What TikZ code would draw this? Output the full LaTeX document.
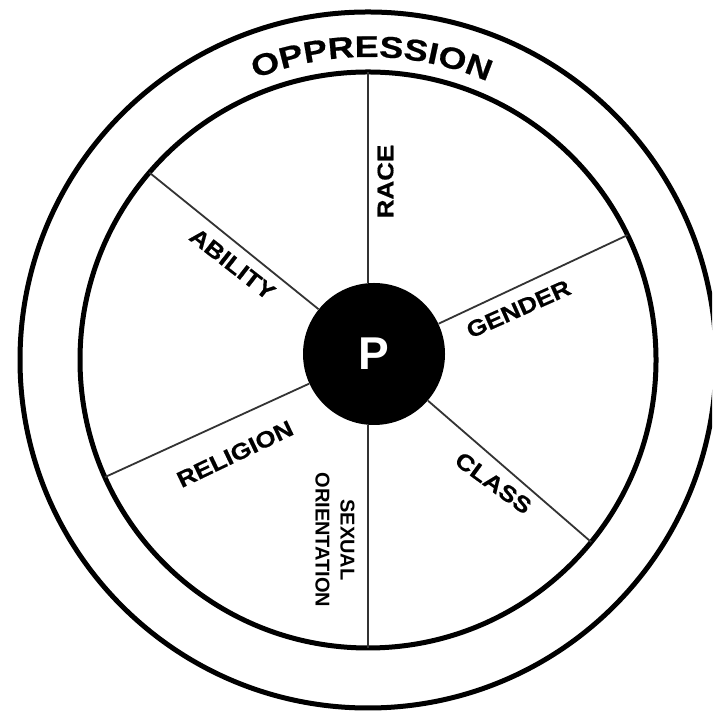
\documentclass[tikz,border=0pt]{standalone}
\usepackage{fontspec}
\setmainfont{Liberation Sans}
\newfontfamily\lblfont{Liberation Sans}[FakeStretch=1.15, FakeBold=0.6]
\newfontfamily\oppfont{Liberation Sans}[FakeStretch=1.2, FakeBold=0.6]
\newcommand\oppstyle{\oppfont\bfseries\fontsize{15pt}{17pt}\selectfont}
\usetikzlibrary{decorations.text}
\begin{document}
\begin{tikzpicture}[x=0.5pt,y=0.5pt,
  ring/.style={draw=black, line width=2.5pt},
  spoke/.style={draw=black!80, line width=0.9pt},
  lbl/.style={font=\lblfont\bfseries\fontsize{11.3pt}{13pt}\selectfont, inner sep=0pt},
  lblplain/.style={font=\bfseries\fontsize{10pt}{12.5pt}\selectfont, inner sep=0pt, align=center},
  hub/.style={circle, fill=black, minimum size=71pt, inner sep=0pt, text=white,
    font=\bfseries\fontsize{23pt}{26pt}\selectfont}]
\fill[white] (0,0) rectangle (712,715);
\clip (0,0) rectangle (712,715);
\coordinate (C) at (368,355);
\draw[ring] (C) circle[radius=174pt];
\draw[ring] (C) circle[radius=144pt];
\node[hub] (P) at (374,361) {P};
\path ([shift={(90:144pt)}]C) coordinate (sT);
\path ([shift={(-90:144pt)}]C) coordinate (sB);
\path ([shift={(139.4:144pt)}]C) coordinate (sUL);
\path ([shift={(25.7:144pt)}]C) coordinate (sUR);
\path ([shift={(204:144pt)}]C) coordinate (sLL);
\path ([shift={(320.8:144pt)}]C) coordinate (sLR);
\draw[spoke] (sT) -- (sT |- P.north);
\draw[spoke] (sB) -- (sB |- P.south);
\draw[spoke] (sUL) -- (P);
\draw[spoke] (sUR) -- (P);
\draw[spoke] (sLL) -- (P);
\draw[spoke] (sLR) -- (P);
\path[decorate, decoration={text along path, text={|\oppstyle|OPPRESSION}, text align=center}]
  ([shift={(149.3:151.5pt)}]C) arc[start angle=149.3, end angle=29.3, radius=151.5pt];
\node[lbl, rotate=90] (race) at (385.5,533.5) {RACE};
\node[lbl, rotate=-38] (ability) at (232.5,451) {ABILITY};
\node[lbl, rotate=24] (gender) at (518.5,406) {GENDER};
\node[lbl, rotate=25.6] (religion) at (235,261) {RELIGION};
\node[lbl, rotate=-36] (class) at (493.5,232) {CLASS};
\node[lblplain, rotate=-90] (sexor) at (335,175) {SEXUAL\\ORIENTATION};
\end{tikzpicture}
\end{document}
